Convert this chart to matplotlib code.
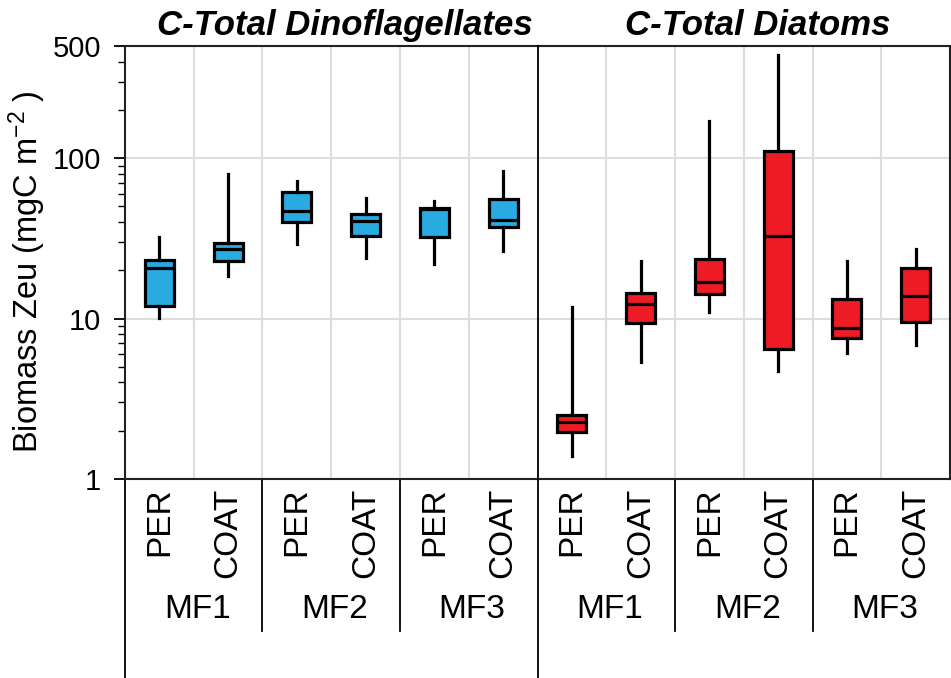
import matplotlib
matplotlib.use("Agg")
import matplotlib.pyplot as plt
import matplotlib.transforms as mtransforms
from matplotlib.ticker import FixedLocator, NullFormatter

plt.rcParams['font.family'] = ['Liberation Sans', 'DejaVu Sans']
plt.rcParams['mathtext.default'] = 'regular'

# box statistics (mgC m-2)
groups = ['MF1', 'MF2', 'MF3']
samples = ['PER', 'COAT']
panels = ['C-Total Dinoflagellates', 'C-Total Diatoms']
colors = ['#29ABE2', '#ED1C24']

dino_whislo = [10.1, 18.4, 29.1, 23.8, 21.9, 26.3]
dino_q1 = [12.0, 22.8, 39.9, 32.7, 32.2, 37.2]
dino_med = [20.6, 27.1, 46.7, 40.5, 48.0, 41.1]
dino_q3 = [23.1, 29.5, 61.4, 44.8, 48.8, 55.5]
dino_whishi = [32.2, 79.5, 71.9, 56.3, 54.0, 83.0]

diat_whislo = [1.39, 5.36, 11.0, 4.71, 6.10, 6.84]
diat_q1 = [1.96, 9.4, 14.2, 6.45, 7.56, 9.5]
diat_med = [2.27, 12.3, 16.9, 32.7, 8.73, 13.8]
diat_q3 = [2.50, 14.4, 23.5, 110.6, 13.2, 20.6]
diat_whishi = [11.8, 22.8, 170.0, 438.0, 22.8, 27.1]

fig = plt.figure(figsize=(9.51, 6.78), dpi=100)
ax = fig.add_axes([0.1314, 0.2935, 0.8676, 0.6385])

def make_stats(lo, q1, med, q3, hi):
    return [dict(whislo=a, q1=b, med=c, q3=d, whishi=e, fliers=[])
            for a, b, c, d, e in zip(lo, q1, med, q3, hi)]

dino_stats = make_stats(dino_whislo, dino_q1, dino_med, dino_q3, dino_whishi)
diat_stats = make_stats(diat_whislo, diat_q1, diat_med, diat_q3, diat_whishi)

for k, (stats, col) in enumerate(zip([dino_stats, diat_stats], colors)):
    pos = [k * 6 + i for i in range(6)]
    ax.bxp(stats, positions=pos, widths=0.42, patch_artist=True,
           showcaps=False, showfliers=False,
           boxprops=dict(facecolor=col, edgecolor='black', linewidth=2.3),
           medianprops=dict(color='black', linewidth=2.3),
           whiskerprops=dict(color='black', linewidth=2.3), zorder=3)

ax.set_yscale('log')
ax.set_ylim(1, 500)
ax.set_xlim(-0.5, 11.5)
ax.yaxis.set_major_locator(FixedLocator([1, 10, 100, 500]))
ax.set_yticklabels(['1', '10', '100', '500'])
minors = [m * 10 ** e for e in range(0, 3) for m in range(2, 10) if m * 10 ** e < 500]
ax.yaxis.set_minor_locator(FixedLocator(minors))
ax.yaxis.set_minor_formatter(NullFormatter())
ax.tick_params(axis='y', which='major', labelsize=21, length=8, width=1.3, pad=9)
ax.tick_params(axis='y', which='minor', length=5, width=1.0)

ax.set_xticks([])
ax.set_xticks([i + 0.5 for i in range(11)], minor=True)
ax.tick_params(axis='x', which='minor', length=0)
ax.grid(True, axis='x', which='minor', color='#dddddd', linewidth=1.5, zorder=0)
ax.grid(True, axis='y', which='major', color='#dddddd', linewidth=1.5, zorder=0)
ax.set_axisbelow(True)

for s in ax.spines.values():
    s.set_linewidth(1.5)
    s.set_color('#222222')

ax.set_ylabel(r'Biomass Zeu (mgC m$^{-2}$ )', fontsize=23.5)
ax.yaxis.set_label_coords(-0.0933, 0.478)

trans = mtransforms.blended_transform_factory(ax.transData, ax.transAxes)

# panel divider and lines below the axis
ax.plot([5.5, 5.5], [1, -0.46], color='black', linewidth=1.3, transform=trans,
        clip_on=False, zorder=4)
ax.plot([-0.5, -0.5], [0, -0.46], color='black', linewidth=1.3, transform=trans,
        clip_on=False)
for xs in [1.5, 3.5, 7.5, 9.5]:
    ax.plot([xs, xs], [0, -0.351], color='black', linewidth=1.3, transform=trans,
            clip_on=False)

for k in range(2):
    for g, gname in enumerate(groups):
        for s, sname in enumerate(samples):
            x = k * 6 + g * 2 + s
            ax.annotate(sname, xy=(x, 0), xycoords=trans, xytext=(0, -6),
                        textcoords='offset points', rotation=90, ha='center',
                        va='top', fontsize=24)
        ax.annotate(gname, xy=(k * 6 + g * 2 + 0.55, 0), xycoords=trans,
                    xytext=(0, -94), textcoords='offset points', ha='center',
                    va='center', fontsize=24)
    ax.annotate(panels[k], xy=(k * 6 + 2.7, 1.0), xycoords=trans,
                xytext=(0, 3), textcoords='offset points', ha='center',
                va='bottom', fontsize=25, fontweight='bold', fontstyle='italic')

fig.savefig('out.png', dpi=100)
